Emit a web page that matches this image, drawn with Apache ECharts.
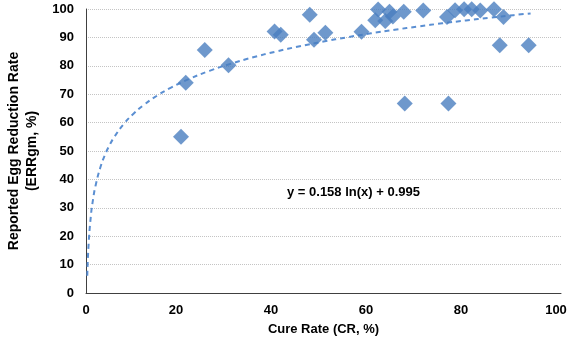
<!DOCTYPE html>
<html>
<head>
<meta charset="utf-8">
<script src="https://cdn.jsdelivr.net/npm/echarts@6/dist/echarts.min.js"></script>
<style>
  html, body { margin: 0; padding: 0; background: #fff; }
  #main { width: 567px; height: 352px; }
</style>
</head>
<body>
<div id="main"></div>
<script>
// cure rate (CR, %) of each study
var cureRate = [20.0, 21.0, 25.0, 30.0, 39.7, 41.0, 47.1, 48.0, 50.4, 58.0,
                61.5, 60.9, 63.0, 63.9, 64.6, 66.9, 67.1, 71.0, 76.0, 76.3,
                77.7, 79.6, 81.2, 83.0, 85.9, 87.1, 87.9, 93.2];
// reported egg reduction rate (ERRgm, %)
var errRate = [55.0, 74.0, 85.6, 80.2, 92.1, 90.9, 98.0, 89.2, 91.6, 92.0,
               99.8, 96.0, 95.8, 99.0, 97.4, 99.0, 66.7, 99.5, 97.2, 66.7,
               99.6, 99.9, 99.9, 99.5, 99.9, 87.2, 97.2, 87.2];
// log trendline from the chart: y = 0.158 ln(x) + 0.995 (x, y as fractions)
var trendA = 0.158;
var trendB = 0.995;
var trendX = [0.27, 0.5, 1, 1.5, 2, 3, 4, 5, 6, 8, 10, 12, 15, 18, 22, 26, 30,
              35, 40, 45, 50, 55, 60, 65, 70, 75, 80, 85, 90, 93.6];

var points = cureRate.map(function(x, i) { return [x, errRate[i]]; });
var trend = trendX.map(function(x) {
    return [x, (trendA * Math.log(x / 100) + trendB) * 100];
});

var font = '"Liberation Sans", Arial, sans-serif';
var lbl = { fontFamily: font, fontWeight: 'bold', fontSize: 13, color: '#000' };
var myChart = echarts.init(document.getElementById('main'));
myChart.setOption({
    animation: false,
    backgroundColor: '#fff',
    grid: { left: 86, right: 6, top: 9, bottom: 59, outerBoundsMode: 'none', containLabel: false },
    xAxis: {
        type: 'value',
        min: 0, max: 100, interval: 20,
        name: 'Cure Rate (CR, %)',
        nameLocation: 'middle',
        nameGap: 30,
        nameTextStyle: lbl,
        axisLine: { show: true, lineStyle: { color: '#404040', width: 1 } },
        axisTick: { show: false },
        axisLabel: {
            margin: 11,
            formatter: function(v) { return v === 0 ? '{z|0}' : '{n|' + v + '}'; },
            rich: {
                z: lbl,
                n: Object.assign({ padding: [0, 10, 0, 0] }, lbl)
            }
        },
        splitLine: { show: false }
    },
    yAxis: {
        type: 'value',
        min: 0, max: 100, interval: 10,
        name: 'Reported Egg Reduction Rate\n(ERRgm, %)',
        nameLocation: 'middle',
        nameGap: 44,
        nameTextStyle: Object.assign({}, lbl, { fontSize: 14, lineHeight: 18 }),
        axisLine: { show: true, lineStyle: { color: '#404040', width: 1 } },
        axisTick: { show: false },
        axisLabel: Object.assign({ margin: 12 }, lbl),
        splitLine: { show: true, lineStyle: { color: '#c4c4c4', type: [1, 1], width: 1 } }
    },
    series: [{
        name: 'trend',
        type: 'line',
        data: trend,
        smooth: true,
        showSymbol: false,
        lineStyle: { color: '#5b8fd2', width: 2, type: [5, 4] },
        z: 1
    }, {
        name: 'ERR',
        type: 'scatter',
        data: points,
        symbol: 'diamond',
        symbolSize: 16,
        itemStyle: { color: '#4a7ebf' },
        z: 2
    }],
    graphic: [{
        type: 'text',
        left: 287,
        top: 186,
        style: {
            text: 'y = 0.158 ln(x) + 0.995',
            font: 'bold 13px ' + font,
            fill: '#000'
        }
    }]
});
</script>
</body>
</html>
